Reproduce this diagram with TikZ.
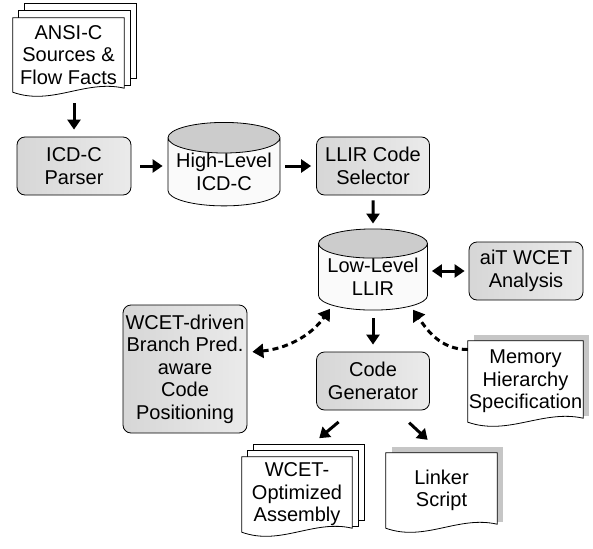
\documentclass[tikz,border=0pt]{standalone}
\usepackage{fontspec}
\setmainfont{Liberation Sans}
\usepackage{tikz}
\usetikzlibrary{calc}
\usetikzlibrary{positioning}
\usetikzlibrary{backgrounds}
\usetikzlibrary{shapes.geometric}
\usetikzlibrary{arrows.meta}

% front sheet of a document, wavy bottom edge
\newcommand{\docsheet}[1]{%
  \draw[fill=white, line width=0.8pt] (#1.north west) -- (#1.north east) -- ([yshift=4pt]#1.south east)
    .. controls ($(#1.south west)!0.65!(#1.south east)+(0,13pt)$) and ($(#1.south west)!0.35!(#1.south east)+(0,-14pt)$) .. (#1.south west) -- cycle;}
% sheet lying behind a document
\newcommand{\backsheet}[3]{%
  \draw[fill=white, line width=0.8pt] ([shift={(#2pt,#3pt)}]#1.north west) rectangle ([shift={(#2pt,#3pt)}]#1.south east);}
% grey shadow behind a document
\newcommand{\docshadow}[1]{%
  \fill[gray!45] ([shift={(6pt,6pt)}]#1.north west) rectangle ([shift={(6pt,6pt)}]#1.south east);}

\begin{document}
\begin{tikzpicture}[x=1pt, y=1pt,
    every node/.style={font=\fontsize{20}{22.5}\selectfont, align=center, inner sep=0pt},
    box/.style={draw, line width=0.8pt, rounded corners=8pt, left color=gray!32, middle color=gray!4, right color=gray!16,
      minimum width=114pt, minimum height=58pt},
    db/.style={cylinder, shape border rotate=90, draw, line width=0.8pt, aspect=0.32,
      cylinder uses custom fill, cylinder end fill=gray!40, cylinder body fill=gray!4},
    doc/.style={minimum width=111pt, minimum height=75pt},
    flow/.style={line width=3pt, -{Triangle[length=10pt,width=13pt]}, shorten >=5pt, shorten <=5pt},
    dflow/.style={line width=3pt, dash pattern=on 6pt off 4pt}]
\useasboundingbox (0,0) rectangle (593,-548);

\node (ansi) [doc, minimum height=74pt] at (68.5,-55) {ANSI-C\\Sources \&\\Flow Facts};
\node (parser) [box] at (74,-166) {ICD-C\\Parser};
\node (highlevel) [db, minimum width=112pt, minimum height=78pt, node distance=150pt, right of=parser, yshift=-6pt] {High-Level\\ICD-C};
\node (selector) [box, minimum width=113pt, node distance=149pt, right of=highlevel, yshift=6pt] {LLIR Code\\Selector};
\node (lowlevel) [db, minimum width=109pt, minimum height=76pt, node distance=111pt, below of=selector] {Low-Level\\LLIR};
\node (ait) [box, node distance=153pt, right of=lowlevel, yshift=6pt] {aiT WCET\\Analysis};
\node (codegen) [box, minimum width=113pt, node distance=104pt, below of=lowlevel] {Code\\Generator};
\node (wcet) [box, minimum width=124pt, minimum height=128pt] at (185,-369) {WCET-driven\\Branch Pred.\\aware\\Code\\Positioning};
\node (memory) [doc, minimum width=115pt, minimum height=81pt] at (525.5,-381.5) {Memory\\Hierarchy\\Specification};
\node (assembly) [doc, minimum width=110pt] at (297,-494.5) {WCET-\\Optimized\\Assembly};
\node (linker) [doc] at (441.5,-490.5) {Linker\\Script};

\begin{scope}[on background layer]
\backsheet{ansi}{12}{14}
\backsheet{ansi}{6}{7}
\docsheet{ansi}
\backsheet{assembly}{12}{12}
\backsheet{assembly}{6}{6}
\docsheet{assembly}
\docshadow{memory}
\docsheet{memory}
\docshadow{linker}
\docsheet{linker}
\end{scope}

\draw [flow, shorten <=11pt, shorten >=7pt] (ansi.south -| parser.north) -- (parser.north);
\draw [flow, shorten <=9pt] (parser) -- (parser -| highlevel.west);
\draw [flow] (selector -| highlevel.east) -- (selector);
\draw [flow] (selector) -- (lowlevel);
\draw [flow, {Triangle[length=10pt,width=13pt]}-{Triangle[length=10pt,width=13pt]}, shorten <=4pt, shorten >=4pt] (ait -| lowlevel.east) -- (ait);
\draw [flow, shorten <=8pt, shorten >=7pt] (lowlevel) -- (codegen);
\draw [flow, shorten <=18pt, shorten >=29pt] (codegen.235) -- (assembly.north);
\draw [flow, shorten <=18pt, shorten >=19pt] (codegen.308) -- (linker.north);

\draw [dflow, {Triangle[length=11pt,width=14pt]}-{Triangle[length=11pt,width=14pt]}, shorten <=5pt, shorten >=4pt] (wcet.15) to[out=5, in=235] (lowlevel.215);
\draw [dflow, -{Triangle[length=11pt,width=14pt]}, shorten >=4pt] (memory.151) to[out=180, in=-55] (lowlevel.322);

\end{tikzpicture}
\end{document}
